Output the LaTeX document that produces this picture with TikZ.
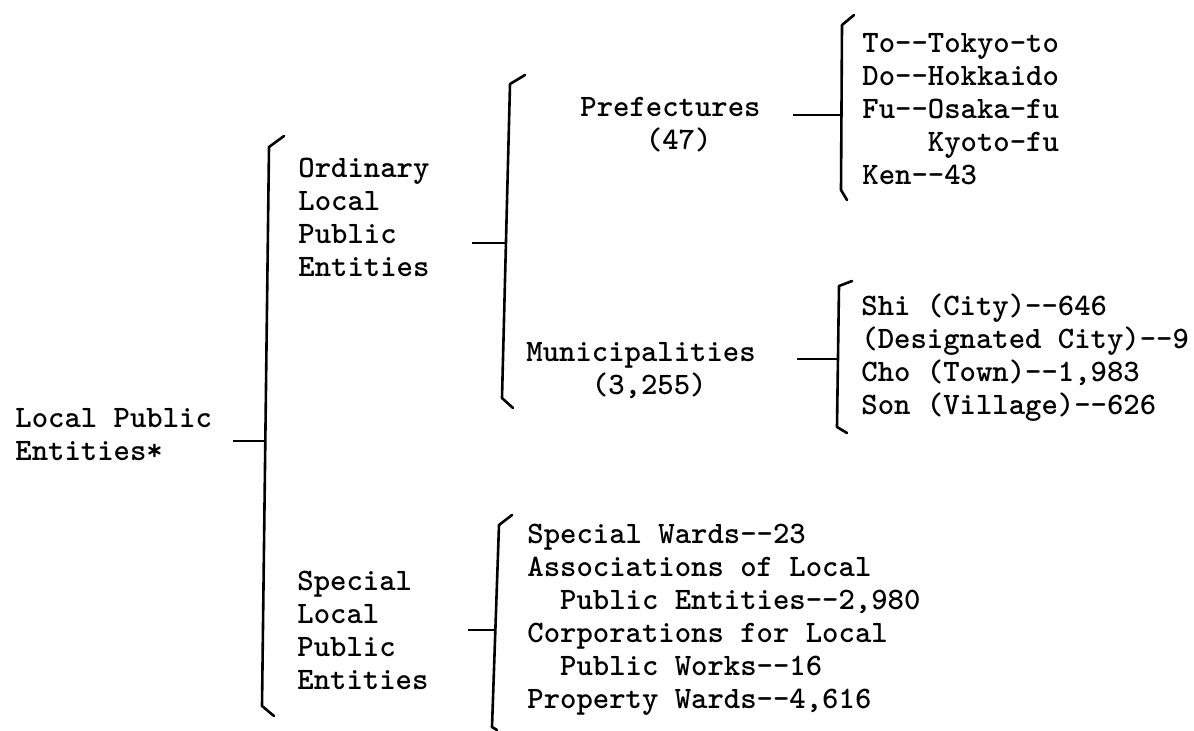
\documentclass[tikz,border=0pt]{standalone}
\newcommand\hh{-\kern0pt-}
\tikzset{
  entry/.style={font=\ttfamily\bfseries\fontsize{15.6pt}{16.5pt}\selectfont, align=left,
    anchor=north west, inner sep=0pt, execute at begin node=\strut},
  brace/.style={line width=1.3pt, line join=round, line cap=round},
  tick/.style={line width=1.2pt},
}

\begin{document}
\begin{tikzpicture}[x=0.5pt,y=-0.5pt]
			%%%%% START %%%%%
			\useasboundingbox (0,0) rectangle (1194,730);
			
			\node[entry] (lpe) at (15,408) {Local Public\\Entities*};
			\node[entry] (ordinary) at (298,158) {Ordinary\\Local\\Public\\Entities};
			\node[entry] (special) at (297,571) {Special\\Local\\Public\\Entities};
			
			\node[entry] (pref) at (580,97) {Prefectures\\\hphantom{Pref}(47)};
			\node[entry] (muni) at (526,342) {Municipalities\\\hphantom{Muni}(3,255)};
			
			\node[entry] (preflist) at (862,33) {To\hh Tokyo-to\\Do\hh Hokkaido\\Fu\hh Osaka-fu\\\hphantom{Fu--}Kyoto-fu\\Ken\hh 43};
			\node[entry] (munilist) at (861,293) {Shi (City)\hh 646\\(Designated City)\hh 9\\Cho (Town)\hh 1,983\\Son (Village)\hh 626};
			\node[entry] (speclist) at (527,524) {Special Wards\hh 23\\Associations of Local\\\hphantom{As}Public Entities\hh 2,980\\Corporations for Local\\\hphantom{Co}Public Works\hh 16\\Property Wards\hh 4,616};
			
			% brackets
			\draw[brace] (284,136) -- (269,147) -- (262,706) -- (274,716);
			\draw[brace] (525,75) -- (510,84) -- (502,398) -- (513,408);
			\draw[brace] (854,15) -- (842,25) -- (841,190) -- (847,200);
			\draw[brace] (852,281) -- (839,286) -- (837,427) -- (847,433);
			\draw[brace] (512,515) -- (499,525) -- (492,727) -- (497,730);
			
			\coordinate (b1) at (265.3,441);
			\coordinate (b2) at (506,243);
			\coordinate (b3) at (841.5,115);
			\coordinate (b4) at (838,359);
			\coordinate (b5) at (495.4,630);
			
			\coordinate (t1) at (233,441);
			\coordinate (t2) at (472,243);
			\coordinate (t3) at (793,115);
			\coordinate (t4) at (797,359);
			\coordinate (t5) at (468,630);
			
			\foreach \i in {1,...,5}
				\draw[tick] (t\i) -- (b\i);
			%%%%% END %%%%%
\end{tikzpicture}
\end{document}
